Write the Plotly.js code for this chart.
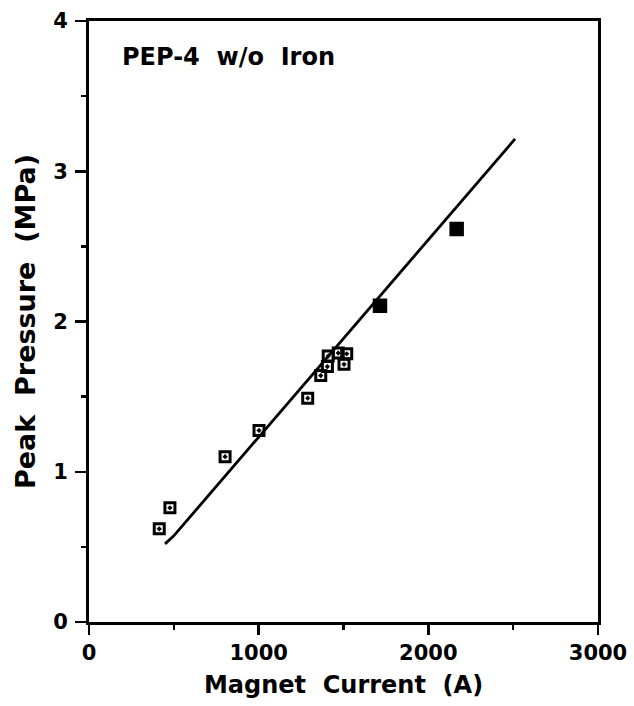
<!DOCTYPE html>
<html>
<head>
<meta charset="utf-8">
<script src="https://cdn.plot.ly/plotly-3.0.1.min.js"></script>
<style>html,body{margin:0;padding:0;background:#fff;}#chart{width:634px;height:706px;}</style>
</head>
<body>
<div id="chart"></div>
<script>
// Measured points: magnet current (A) vs peak pressure (MPa)
var currentA = [414, 477, 802, 1002, 1289, 1366, 1405, 1410, 1469, 1519, 1503, 1715, 2167];
var pressureMPa = [0.62, 0.76, 1.10, 1.275, 1.49, 1.64, 1.70, 1.77, 1.79, 1.785, 1.715, 2.105, 2.615];
// Fit line
var fitCurrentA = [448, 497, 2511];
var fitPressureMPa = [0.52, 0.57, 3.215];
var xTicks = [0, 1000, 2000, 3000];
var yTicks = [0, 1, 2, 3, 4];
var chartLabel = 'PEP-4  w/o  Iron';
var xTitle = 'Magnet  Current  (A)';
var yTitle = 'Peak  Pressure  (MPa)';

var fnt = 'DejaVu Sans, Liberation Sans, Arial, sans-serif';
var nPts = currentA.length;
var lineWidths = currentA.map(function(v, i){ return i >= nPts - 2 ? 5.5 : 3; });
var sizes = currentA.map(function(v, i){ return i >= nPts - 2 ? 9 : 10; });

var traces = [
  {
    x: fitCurrentA, y: fitPressureMPa, type: 'scatter', mode: 'lines',
    line: {color: '#000', width: 2.8}, hoverinfo: 'skip'
  },
  {
    x: currentA, y: pressureMPa, type: 'scatter', mode: 'markers',
    marker: {symbol: 'square-open-dot', size: sizes, opacity: 1, color: '#000', line: {color: '#000', width: lineWidths}}
  }
];

var axisCommon = {
  showgrid: false, zeroline: false, showline: true, linecolor: '#000', linewidth: 3,
  mirror: true, ticks: 'outside', ticklen: 10, tickwidth: 2.5, tickcolor: '#000',
  tickfont: {family: fnt, size: 21, color: '#000', weight: 'bold'}
};

var layout = {
  width: 634, height: 706,
  margin: {l: 89, r: 36, t: 21, b: 84},
  paper_bgcolor: '#fff', plot_bgcolor: '#fff',
  showlegend: false,
  xaxis: Object.assign({}, axisCommon, {
    range: [0, 3000], tickmode: 'array', tickvals: xTicks, ticktext: xTicks.map(String),
    minor: {dtick: 500, ticks: 'outside', ticklen: 5, tickwidth: 2.5, tickcolor: '#000'},
    title: {text: xTitle, font: {family: fnt, size: 24, color: '#000', weight: 'bold'}, standoff: 12}
  }),
  yaxis: Object.assign({}, axisCommon, {
    range: [0, 4], tickmode: 'array', tickvals: yTicks, ticktext: yTicks.map(String),
    ticklen: 11, ticklabelstandoff: 3,
    minor: {dtick: 0.5, ticks: 'outside', ticklen: 5, tickwidth: 2.5, tickcolor: '#000'},
    title: {text: yTitle, font: {family: fnt, size: 27, color: '#000', weight: 'bold'}, standoff: 10}
  }),
  annotations: [{
    text: chartLabel, xref: 'x', yref: 'y', x: 183, y: 3.76, xanchor: 'left', yanchor: 'middle',
    showarrow: false, font: {family: fnt, size: 24, color: '#000', weight: 'bold'}
  }]
};

Plotly.newPlot('chart', traces, layout, {staticPlot: true, displayModeBar: false});
</script>
</body>
</html>
